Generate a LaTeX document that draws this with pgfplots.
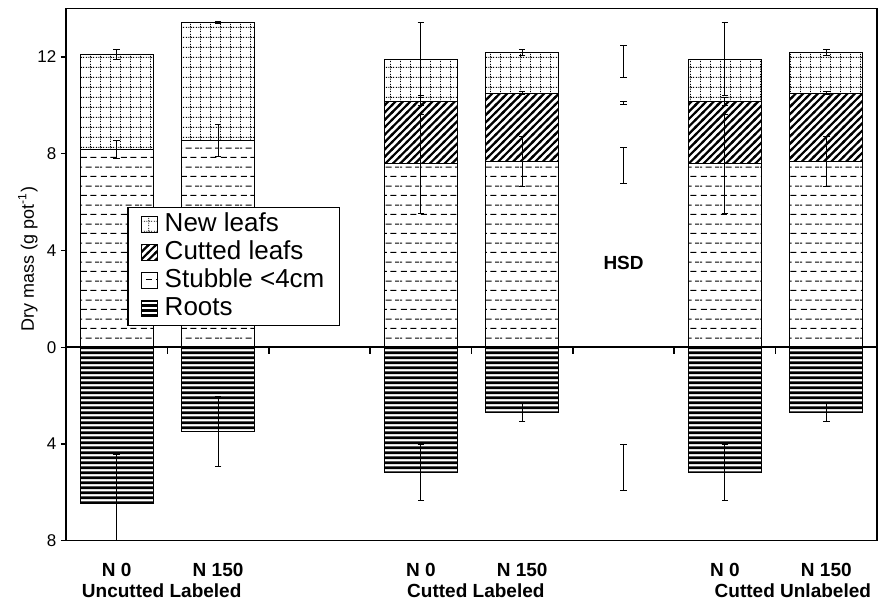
\documentclass[border=0pt]{standalone}
\usepackage{fontspec}
\setmainfont{Liberation Sans}
\usepackage{pgfplots}
\pgfplotsset{compat=1.18}
\usetikzlibrary{patterns}

% fill patterns of the four fractions
\pgfdeclarepatternformonly{newleafs}{\pgfqpoint{0pt}{0pt}}{\pgfqpoint{4.8pt}{4.8pt}}{\pgfqpoint{4.8pt}{4.8pt}}{%
  \pgfsetlinewidth{0.4pt}%
  \pgfsetdash{{0.6pt}{0.6pt}}{0pt}%
  \pgfpathmoveto{\pgfqpoint{0pt}{2.4pt}}\pgfpathlineto{\pgfqpoint{4.8pt}{2.4pt}}%
  \pgfpathmoveto{\pgfqpoint{2.4pt}{0pt}}\pgfpathlineto{\pgfqpoint{2.4pt}{4.8pt}}%
  \pgfusepath{stroke}}
\pgfdeclarepatternformonly{cutted}{\pgfqpoint{-1pt}{-1pt}}{\pgfqpoint{4.7pt}{4.7pt}}{\pgfqpoint{3.7pt}{3.7pt}}{%
  \pgfsetlinewidth{1.1pt}%
  \pgfpathmoveto{\pgfqpoint{-0.5pt}{-0.5pt}}\pgfpathlineto{\pgfqpoint{4.2pt}{4.2pt}}%
  \pgfusepath{stroke}}
\pgfdeclarepatternformonly{stubble}{\pgfqpoint{0pt}{0pt}}{\pgfqpoint{10pt}{9.6pt}}{\pgfqpoint{10pt}{9.6pt}}{%
  \pgfsetlinewidth{0.55pt}%
  \pgfpathmoveto{\pgfqpoint{0.4pt}{2.4pt}}\pgfpathlineto{\pgfqpoint{3.6pt}{2.4pt}}%
  \pgfpathmoveto{\pgfqpoint{5.4pt}{2.4pt}}\pgfpathlineto{\pgfqpoint{8.6pt}{2.4pt}}%
  \pgfpathmoveto{\pgfqpoint{2.9pt}{7.2pt}}\pgfpathlineto{\pgfqpoint{6.1pt}{7.2pt}}%
  \pgfpathmoveto{\pgfqpoint{7.9pt}{7.2pt}}\pgfpathlineto{\pgfqpoint{10pt}{7.2pt}}%
  \pgfpathmoveto{\pgfqpoint{0pt}{7.2pt}}\pgfpathlineto{\pgfqpoint{1.1pt}{7.2pt}}%
  \pgfusepath{stroke}}
\pgfdeclarepatternformonly{roots}{\pgfqpoint{0pt}{0pt}}{\pgfqpoint{24pt}{2.4pt}}{\pgfqpoint{24pt}{2.4pt}}{%
  \pgfpathrectangle{\pgfqpoint{-0.5pt}{0.5pt}}{\pgfqpoint{25pt}{1.4pt}}%
  \pgfusepath{fill}}

\tikzset{
  pat/.style={fill=white, postaction={pattern=#1}, draw=black, line width=0.5pt},
  xlab/.style={font=\bfseries\fontsize{9.5}{11}\selectfont, anchor=base, inner sep=0pt},
}
\pgfplotsset{
  errs/.style={
    error bars/y dir=both, error bars/y explicit,
    error bars/error bar style={draw=black, line width=0.5pt},
    error bars/error mark options={rotate=90, draw=black, line width=0.5pt, mark size=1.6pt}},
  bars/.style={ybar, bar width=0.72, bar shift=0pt, errs},
}

\begin{document}
\begin{tikzpicture}
\begin{axis}[
  scale only axis, width=405.5pt, height=266pt,
  xmin=0.5, xmax=8.5, ymin=-8, ymax=14,
  xtick=\empty,
  ytick={-8,-4,0,4,8,12}, yticklabels={8,4,0,4,8,12},
  ytick pos=left, tick align=outside, major tick length=2.5pt,
  y tick style={line width=0.6pt, black},
  yticklabel style={font=\fontsize{8.5}{10}\selectfont, xshift=1.2pt},
  /pgf/number format/assume math mode=true,
  axis line style={line width=0.7pt},
  ylabel={Dry mass (g pot\textsuperscript{-1})},
  ylabel style={font=\fontsize{9}{10}\selectfont, at={(axis description cs:-0.047,0.53)}, anchor=center},
  clip mode=individual,
  legend cell align=left,
  legend style={at={(axis description cs:0.0755,0.628)}, anchor=north west,
    draw=black, line width=0.7pt, font=\fontsize{13}{15}\selectfont,
    inner xsep=6.5pt, inner ysep=1.5pt, row sep=0pt, column sep=2.4pt,
    nodes={inner sep=1pt, text height=9.6pt, text depth=2.4pt}},
  legend image code/.code={\draw[#1] (0pt,-4pt) rectangle (8pt,4pt);},
]
\addplot[bars, pat=newleafs] coordinates {
  (1,12.10) +- (0,0.22)
  (2,13.44) +- (0,0.05)
  (4,11.91) +- (0,1.52)
  (5,12.20) +- (0,0.12)
  (7,11.91) +- (0,1.52)
  (8,12.20) +- (0,0.12)
};
\addlegendentry{New leafs}
\addplot[bars, pat=cutted] coordinates {
  (4,10.16) +- (0,0.15)
  (5,10.51) +- (0,0.06)
  (7,10.16) +- (0,0.15)
  (8,10.51) +- (0,0.06)
};
\addlegendentry{Cutted leafs}
\addplot[bars, pat=stubble] coordinates {
  (1,8.18) +- (0,0.38)
  (2,8.55) +- (0,0.65)
  (4,7.59) +- (0,2.05)
  (5,7.68) +- (0,1.02)
  (7,7.59) +- (0,2.05)
  (8,7.68) +- (0,1.02)
};
\addlegendentry{Stubble <4cm}
\addplot[bars, pat=roots] coordinates {
  (1,-6.45) +- (0,2.00)
  (2,-3.49) +- (0,1.45)
  (4,-5.17) +- (0,1.15)
  (5,-2.68) +- (0,0.40)
  (7,-5.17) +- (0,1.15)
  (8,-2.68) +- (0,0.40)
};
\addlegendentry{Roots}
% HSD intervals
\addplot[forget plot, draw=none, mark=none, errs] coordinates {
  (6,11.81) +- (0,0.66)
  (6,10.10) +- (0,0.06)
  (6,7.52) +- (0,0.74)
  (6,-4.98) +- (0,0.95)
};
\node[font=\bfseries\fontsize{9.5}{11}\selectfont] at (axis cs:6,3.48) {HSD};
\draw[line width=1pt] (axis cs:0.5,0) -- (axis cs:8.5,0);
\pgfplotsinvokeforeach{0.5,1.5,2.5,3.5,4.5,5.5,6.5,7.5,8.5}{
  \draw[line width=0.8pt] (axis cs:#1,0) -- ([yshift=-3.2pt]axis cs:#1,0);
}
\pgfplotsinvokeforeach{1,4,7}{
  \node[xlab] at ([yshift=-17.85pt]axis cs:#1,-8) {N 0};
}
\pgfplotsinvokeforeach{2,5,8}{
  \node[xlab] at ([yshift=-17.85pt]axis cs:#1,-8) {N 150};
}
\node[xlab] at ([yshift=-28.35pt]axis cs:1.444,-8) {Uncutted Labeled};
\node[xlab] at ([yshift=-28.35pt]axis cs:4.543,-8) {Cutted Labeled};
\node[xlab] at ([yshift=-28.35pt]axis cs:7.67,-8) {Cutted Unlabeled};
\end{axis}
\pgfresetboundingbox
\path[use as bounding box] ([shift={(-33pt,-30pt)}]current axis.south west)
  rectangle ([shift={(1.5pt,4.35pt)}]current axis.north east);
\end{tikzpicture}
\end{document}
